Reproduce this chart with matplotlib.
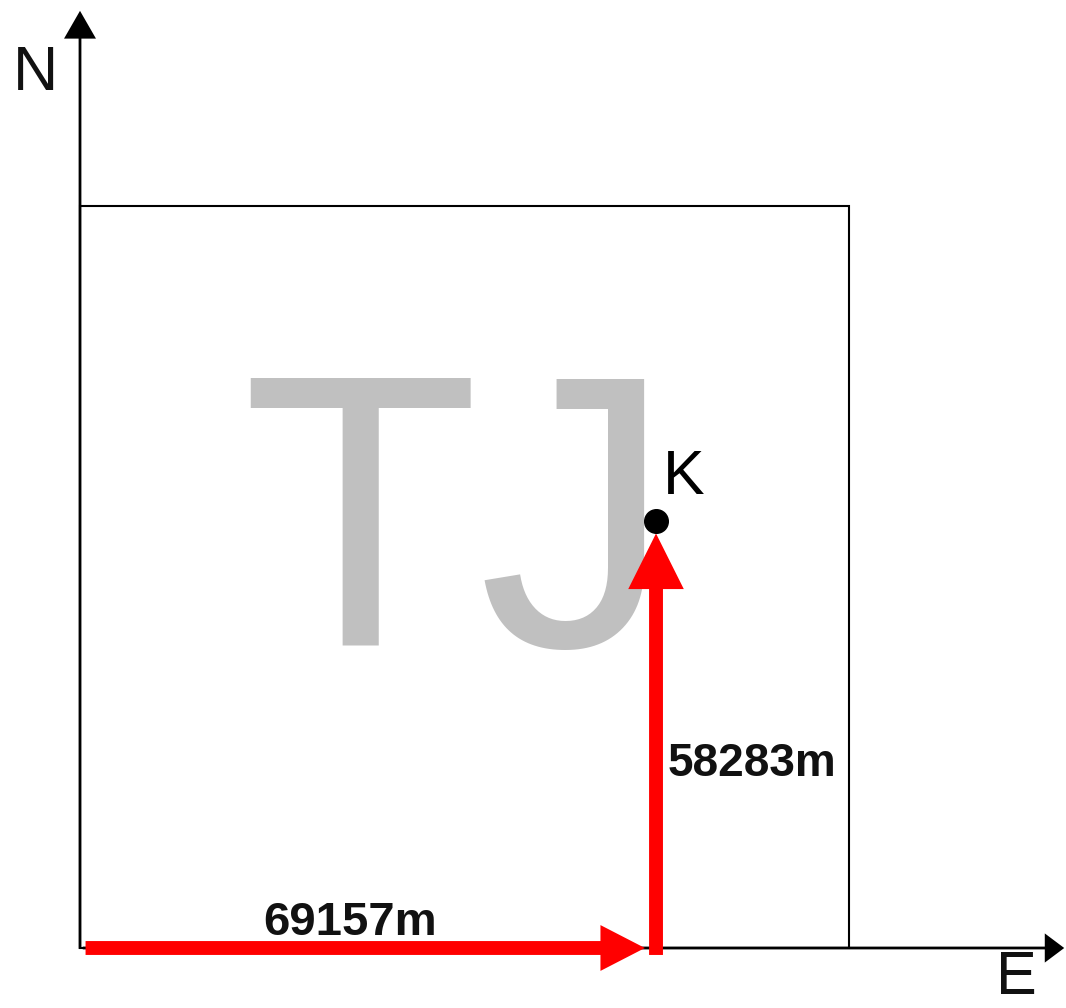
import matplotlib
matplotlib.use("Agg")
import matplotlib.pyplot as plt
from matplotlib.patches import FancyArrowPatch, Rectangle

plt.rcParams['font.family'] = ['Liberation Sans', 'DejaVu Sans']

# данные: смещения до точки K (м)
east_m = 69157
north_m = 58283
point_label = 'K'
watermark = 'TJ'
box_w = 92330    # размер квадрата (м)
box_h = 101280

fig = plt.figure(figsize=(10.66, 10.08), dpi=100)
ax = fig.add_axes([0, 0, 1, 1])
ax.set_xlim(-9605, 118380)
ax.set_ylim(-8190, 129400)
ax.axis('off')

# фоновые буквы
ax.text(45300, 41221, watermark, fontsize=280, color='#c0c0c0',
        ha='center', va='baseline', zorder=1)

# квадрат
ax.add_patch(Rectangle((0, 0), box_w, box_h, fill=False, ec='black', lw=1.5, zorder=2))

# оси N и E
ax.add_patch(FancyArrowPatch((0, -500), (0, 128300), mutation_scale=1, lw=0, color='black',
                             arrowstyle='simple,head_length=20,head_width=23,tail_width=2', zorder=3))
ax.add_patch(FancyArrowPatch((0, 0), (118500, 0), mutation_scale=1, lw=0, color='black',
                             arrowstyle='simple,head_length=14,head_width=21,tail_width=2', zorder=3))
ax.text(-5400, 119400, 'N', fontsize=45, color='#111', ha='center', va='center')
ax.text(112400, -4100, 'E', fontsize=44, color='#111', ha='center', va='center')

# красные стрелки
red_style = 'simple,head_length=32,head_width=33,tail_width=10'
ax.add_patch(FancyArrowPatch((0, 0), (east_m, 0), mutation_scale=1, lw=0, color='red',
                             arrowstyle=red_style, shrinkA=4, shrinkB=8, zorder=4))
ax.add_patch(FancyArrowPatch((east_m, -950), (east_m, north_m), mutation_scale=1, lw=0, color='red',
                             arrowstyle='simple,head_length=40,head_width=40,tail_width=10',
                             shrinkA=0, shrinkB=9, zorder=4))

# точка K
ax.plot([east_m], [north_m], 'o', color='black', markersize=17, zorder=5)
ax.text(east_m + 3360, north_m + 6000, point_label, fontsize=45, ha='center', va='center', zorder=5)

# подписи расстояний
ax.text(32400, 1800, f'{east_m}m', fontsize=34, fontweight='bold', color='#111',
        ha='center', va='baseline', zorder=5)
ax.text(70600, 23500, f'{north_m}m', fontsize=33, fontweight='bold', color='#111',
        ha='left', va='baseline', zorder=5)

plt.savefig('out.png', dpi=100)
